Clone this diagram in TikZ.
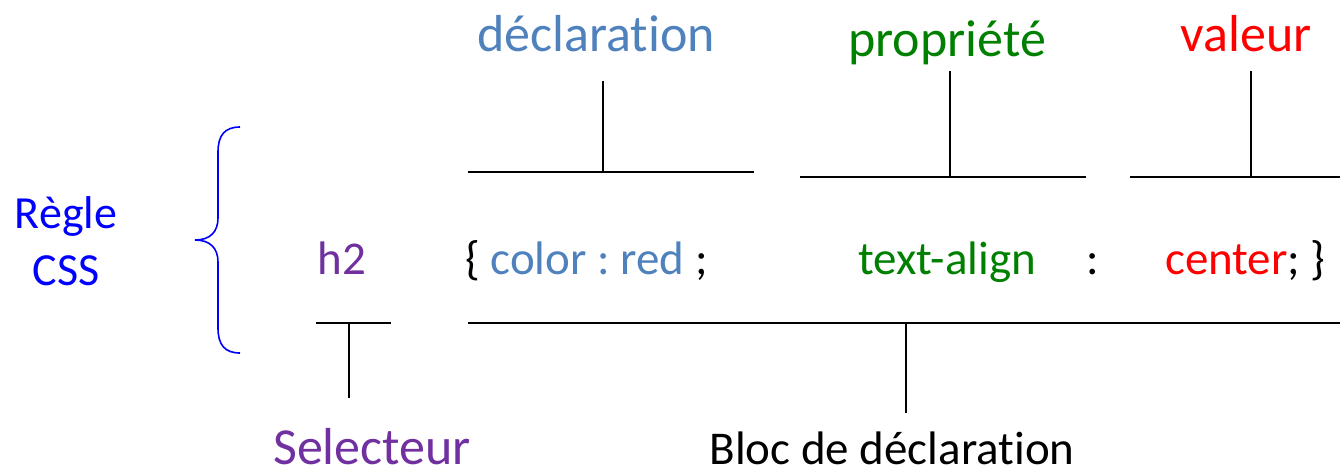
\documentclass[tikz,border=0pt]{standalone}
\usepackage{fontspec}
\setmainfont[Ligatures={NoCommon}]{Carlito}
\definecolor{declblue}{HTML}{4F81BD}
\definecolor{propgreen}{HTML}{008000}
\definecolor{valred}{HTML}{FF0000}
\definecolor{selpurple}{HTML}{7030A0}
\definecolor{ruleblue}{HTML}{0000FF}
\frenchspacing
\begin{document}
\begin{tikzpicture}[x=1pt,y=-1pt,
  lbl/.style={inner sep=0pt,anchor=base,font=\fontsize{52}{60}\selectfont},
  code/.style={inner sep=0pt,anchor=base west,font=\fontsize{47}{56}\selectfont},
  tee/.style={line width=1.6pt,black},
  brace/.style={line width=1.6pt,ruleblue}]
\useasboundingbox (0,0) rectangle (1340,475);

% top labels
\node[lbl,text=declblue] (decl) at (596,51) {déclaration};
\node[lbl,text=propgreen] (prop) at (947,56) {propriété};
\node[lbl,text=valred] (val) at (1246,51) {valeur};

% code line
\node[code] (open) at (465,274) {\{ \textcolor{declblue}{color : red} ;};
\node[code,text=propgreen] (ta) at (858,274) {text-align};
\node[code,anchor=base] (colon) at (1093,274) {:};
\node[code] (cent) at (1165,274) {\textcolor{valred}{center}; \}};
\node[code,anchor=base,text=selpurple] (h2) at (342,274) {h2};

% left
\node[lbl,font=\fontsize{46}{56}\selectfont,text=ruleblue] (regle) at (66,228) {Règle};
\node[lbl,font=\fontsize{46}{56}\selectfont,text=ruleblue] (css) at (66,285) {CSS};

% bottom labels
\node[lbl,text=selpurple] (sel) at (372,464) {Selecteur};
\node[lbl,font=\fontsize{47}{56}\selectfont] (bloc) at (892,464) {Bloc de déclaration};

% tee coordinates
\coordinate (d1) at (468,172); \coordinate (d2) at (754,172);
\coordinate (dm) at (603,172); \coordinate (dt) at (603,81);
\coordinate (p1) at (800,177); \coordinate (p2) at (1086,177);
\coordinate (pm) at (950,177); \coordinate (pt) at (950,71);
\coordinate (v1) at (1130,177); \coordinate (v2) at (1340,177);
\coordinate (vm) at (1251,177); \coordinate (vt) at (1251,71);
\coordinate (s1) at (316,323); \coordinate (s2) at (391,323);
\coordinate (sm) at (349,323); \coordinate (sb) at (349,398);
\coordinate (b1) at (468,323); \coordinate (b2) at (1340,323);
\coordinate (bm) at (906,323); \coordinate (bb) at (906,413);

\draw[tee] (d1) -- (d2) (dm) -- (dt);
\draw[tee] (p1) -- (p2) (pm) -- (pt);
\draw[tee] (v1) -- (v2) (vm) -- (vt);
\draw[tee] (s1) -- (s2) (sm) -- (sb);
\draw[tee] (b1) -- (b2) (bm) -- (bb);

% brace
\coordinate (bt) at (240,127);
\coordinate (tip) at (195,240);
\coordinate (bbot) at (240,353);
\draw[brace] (bt) .. controls (225,127) and (218,135) .. (218,152)
  -- (218,218) .. controls (218,232) and (210,240) .. (tip)
  .. controls (210,240) and (218,248) .. (218,262)
  -- (218,328) .. controls (218,345) and (225,353) .. (bbot);
\end{tikzpicture}
\end{document}
